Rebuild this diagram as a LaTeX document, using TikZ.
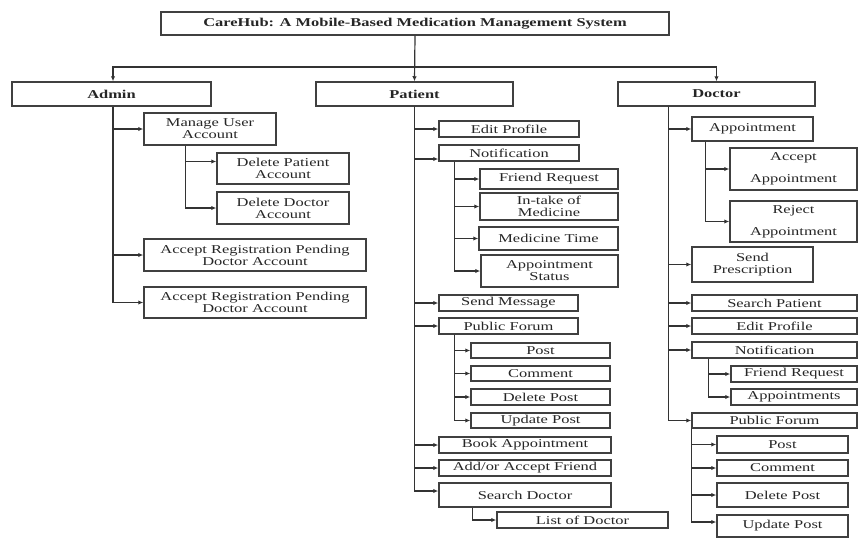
\documentclass[tikz,border=0pt]{standalone}
\usepackage{fontspec}
\setmainfont[FakeStretch=1.37]{Liberation Serif}
\usetikzlibrary{arrows.meta}

% \placebox[style]{name}{x1}{y1}{x2}{y2}{text}: a box given by its corners
\newcommand{\placebox}[7][box]{%
  \node[#1, minimum width={(#5-#3)*1pt}, minimum height={(#6-#4)*1pt}]
    (#2) at ({(#3+#5)/2},{(#4+#6)/2}) {#7};}

\begin{document}
\begin{tikzpicture}[x=1pt,y=-1pt,
  box/.style={draw=black!75, line width=1.5pt, rectangle, inner sep=0pt,
    align=center, text=black!85, font=\fontsize{12}{12}\selectfont},
  head/.style={box, font=\bfseries\fontsize{12}{12}\selectfont},
  link/.style={draw=black!80, line width=1.2pt, -{Latex[length=5pt,width=4.5pt]}}
]
\useasboundingbox (0,0) rectangle (859,538);

% ---- top level ----
\placebox[head]{title}{161}{12}{669}{35}{CareHub: A Mobile-Based Medication Management System}
\placebox[head]{admin}{12}{82}{211}{106}{Admin}
\placebox[head]{patient}{316}{82}{513}{106}{Patient}
\placebox[head]{doctor}{618}{82}{815}{106}{Doctor}

\coordinate (bus) at (415,67);
\draw[link] (title.south) -- (patient.north);
\draw[link] (bus) -| ([xshift=1.5pt]admin.north);
\draw[link] (bus) -| (doctor.north);

% ---- admin ----
\placebox{mua}{144}{113}{276}{145}{Manage User\\Account}
\placebox{dpa}{217}{153}{349}{184}{Delete Patient\\Account}
\placebox{dda}{217}{192}{349}{224}{Delete Doctor\\Account}
\placebox{arp1}{144}{239}{366}{271}{Accept Registration Pending\\Doctor Account}
\placebox{arp2}{144}{287}{366}{318}{Accept Registration Pending\\Doctor Account}

\foreach \c in {mua,arp1,arp2}
  \draw[link] ([xshift=1.5pt]admin.south) |- (\c.west);
\draw[link] ([xshift=42pt]mua.south west) |- ([yshift=7pt]dpa.west);
\draw[link] ([xshift=42pt]mua.south west) |- (dda.west);

% ---- patient ----
\placebox{pep}{439}{121}{579}{137}{Edit Profile}
\placebox{pno}{439}{145}{579}{161}{Notification}
\placebox{pfr}{480}{169}{618}{189}{Friend Request}
\placebox{pim}{480}{193}{618}{220}{In-take of\\Medicine}
\placebox{pmt}{479}{227}{618}{250}{Medicine Time}
\placebox{pas}{481}{255}{618}{287}{Appointment\\Status}
\placebox{psm}{439}{295}{578}{311}{Send Message}
\placebox{ppf}{439}{318}{578}{334}{Public Forum}
\placebox{ppo}{471}{343}{610}{358}{Post}
\placebox{pco}{471}{366}{610}{381}{Comment}
\placebox{pdp}{471}{389}{610}{405}{Delete Post}
\placebox{pup}{471}{413}{610}{428}{Update Post}
\placebox{pba}{439}{437}{611}{453}{Book Appointment}
\placebox{paf}{439}{460}{611}{476}{Add/or Accept Friend}
\placebox{psd}{439}{483}{611}{507}{Search Doctor}
\placebox{plod}{497}{512}{668}{528}{List of Doctor}

\foreach \c in {pep,psm,ppf,pba,paf}
  \draw[link] (patient.south) |- (\c.west);
\draw[link] (patient.south) |- ([yshift=-6pt]pno.west);
\draw[link] (patient.south) |- ([yshift=4pt]psd.west);
\foreach \c in {pfr,pim,pmt,pas}
  \draw[link] ([xshift=16pt]pno.south west) |- (\c.west);
\foreach \c in {ppo,pco,pdp,pup}
  \draw[link] ([xshift=16pt]ppf.south west) |- (\c.west);
\draw[link] ([xshift=34pt]psd.south west) |- (plod.west);

% ---- doctor ----
\placebox{dap}{692}{117}{813}{141}{Appointment}
\placebox{dacc}{730}{148}{857}{190}{Accept\\[10pt]Appointment}
\placebox{drej}{730}{201}{857}{242}{Reject\\[10pt]Appointment}
\placebox{dsp}{692}{247}{813}{282}{Send\\Prescription}
\placebox{dspt}{692}{295}{857}{311}{Search Patient}
\placebox{dep}{692}{318}{857}{334}{Edit Profile}
\placebox{dno}{692}{342}{857}{358}{Notification}
\placebox{dfr}{731}{366}{857}{382}{Friend Request}
\placebox{dapps}{731}{389}{857}{405}{Appointments}
\placebox{dpf}{692}{413}{857}{428}{Public Forum}
\placebox{dpo}{717}{436}{848}{453}{Post}
\placebox{dco}{717}{460}{848}{476}{Comment}
\placebox{ddp}{717}{483}{848}{507}{Delete Post}
\placebox{dup}{717}{515}{848}{537}{Update Post}

\foreach \c in {dap,dsp,dspt,dep,dno,dpf}
  \draw[link] ([xshift=51pt]doctor.south west) |- (\c.west);
\foreach \c in {dacc,drej}
  \draw[link] ([xshift=14pt]dap.south west) |- (\c.west);
\foreach \c in {dfr,dapps}
  \draw[link] ([xshift=17pt]dno.south west) |- (\c.west);
\foreach \c in {dpo,dco,ddp}
  \draw[link] (dpf.south west) |- (\c.west);
\draw[link] (dpf.south west) |- ([yshift=4pt]dup.west);

\end{tikzpicture}
\end{document}
